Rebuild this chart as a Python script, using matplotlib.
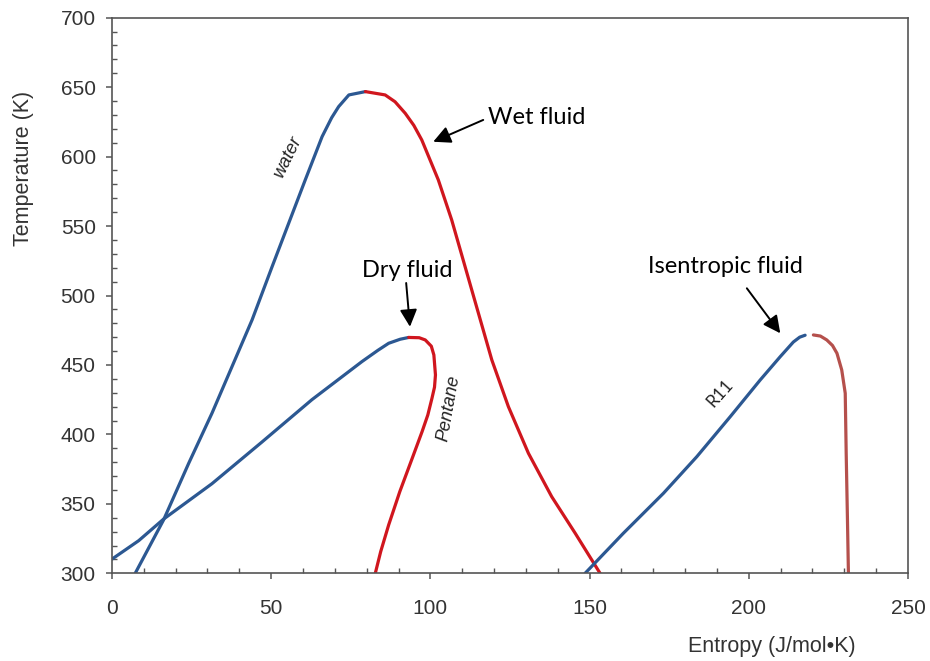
import matplotlib
matplotlib.use('Agg')
import matplotlib.pyplot as plt
from matplotlib.ticker import MultipleLocator

# water saturation dome (liquid side blue, vapour side red)
water_liq_s = [7.3, 16.2, 24.1, 31.4, 37.7, 44.0, 50.3, 55.5, 60.7, 66.0, 69.0, 71.2,
               74.4, 79.6]
water_liq_T = [300, 338.4, 379.2, 415.2, 448.8, 482.4, 520.8, 552.0, 583.2, 614.4,
               628.0, 636.0, 644.4, 646.8]
water_vap_s = [79.6, 85.8, 88.9, 92.1, 94.8, 97.3, 102.5, 106.7, 110.9, 115.1, 119.3,
               124.5, 130.8, 138.1, 145.5, 153.3]
water_vap_T = [646.8, 644.4, 639.5, 631.2, 622.5, 612, 583.2, 554.4, 520.8, 487.2, 453.6,
               420, 386.4, 355.2, 328.8, 300]

# pentane
pent_liq_s = [0.0, 8.4, 16.2, 31.4, 47.1, 62.8, 78.5, 83.5, 86.9, 90.5, 93.2]
pent_liq_T = [310.2, 323.5, 339.0, 364.5, 394.5, 425.0, 452.4, 460.5, 465.6, 468.5, 469.8]
pent_vap_s = [93.2, 96.5, 98.4, 100.3, 101.1, 101.6, 101.3, 100.5, 99.2, 97.4,
              94.3, 90.4, 86.9, 84.4, 82.7]
pent_vap_T = [469.8, 469.6, 468.0, 463.5, 457.2, 442.8, 434, 426, 414, 402,
              382.8, 358.8, 334.8, 315.6, 300]

# R11
r11_liq_s = [148.6, 160.6, 173.2, 183.7, 194.2, 203.6, 209.9, 214.0, 216.0, 217.7]
r11_liq_T = [300, 328.8, 357.6, 384, 412.8, 439.2, 456, 466.5, 470.0, 471.4]
r11_vap_s = [220.3, 222.5, 224.5, 226.3, 227.7, 229.2, 230.3, 230.6, 231.0, 231.3]
r11_vap_T = [471.6, 470.8, 468, 464, 458.4, 446.4, 429.6, 386.4, 338.4, 300]

blue = '#2c5892'
red = '#d0161e'
red_r11 = '#b5504c'

plt.rcParams['font.family'] = ['Liberation Sans', 'DejaVu Sans']

fig = plt.figure(figsize=(9.3, 6.61), dpi=100)
ax = fig.add_axes([0.1204, 0.1327, 0.8559, 0.8405])

lw = 2.3
line_kw = dict(lw=lw, solid_capstyle='round', solid_joinstyle='round')
ax.plot(water_liq_s, water_liq_T, color=blue, **line_kw)
ax.plot(water_vap_s, water_vap_T, color=red, **line_kw)
ax.plot(pent_liq_s, pent_liq_T, color=blue, **line_kw)
ax.plot(pent_vap_s, pent_vap_T, color=red, **line_kw)
ax.plot(r11_liq_s, r11_liq_T, color=blue, **line_kw)
ax.plot(r11_vap_s, r11_vap_T, color=red_r11, **line_kw)

ax.set_xlim(0, 250)
ax.set_ylim(300, 700)
ax.xaxis.set_major_locator(MultipleLocator(50))
ax.xaxis.set_minor_locator(MultipleLocator(10))
ax.yaxis.set_major_locator(MultipleLocator(50))
ax.yaxis.set_minor_locator(MultipleLocator(10))
ax.tick_params(which='major', direction='out', length=4.2, width=1.1,
               color='#555555', labelsize=15, labelcolor='#333333', pad=7.5)
ax.tick_params(which='minor', direction='in', length=3.6, width=1.0, color='#555555')
ax.tick_params(axis='x', which='major', pad=14)
for side in ['left', 'bottom', 'top', 'right']:
    ax.spines[side].set_color('#555555')
    ax.spines[side].set_linewidth(1.2)

ax.set_xlabel('Entropy (J/mol•K)', fontsize=15.5, color='#333333')
ax.set_ylabel('Temperature (K)', fontsize=15.5, color='#333333')
ax.xaxis.set_label_coords(0.829, -0.113)
ax.yaxis.set_label_coords(-0.098, 0.7286)

# curve names
ax.text(55.2, 599.5, 'water', rotation=64, style='italic', fontsize=13,
        color='#222222', ha='center', va='center')
ax.text(105.7, 418.8, 'Pentane', rotation=80, style='italic', fontsize=13,
        color='#222222', ha='center', va='center')
ax.text(191, 429.6, 'R11', rotation=48, fontsize=12.5, family='Lato',
        color='#222222', ha='center', va='center')

# fluid type callouts
arrow = dict(arrowstyle='-|>', color='black', lw=1.4, mutation_scale=26,
             shrinkA=0, shrinkB=0)
ax.annotate('', xy=(100.9, 610.7), xytext=(116.6, 626.4), arrowprops=arrow)
ax.text(133.5, 628, 'Wet fluid', fontsize=17, family='Lato', ha='center', va='center')
ax.annotate('', xy=(93.6, 477.5), xytext=(92.4, 509), arrowprops=arrow)
ax.text(92.6, 518, 'Dry fluid', fontsize=17, family='Lato', ha='center', va='center')
ax.annotate('', xy=(209.9, 472.8), xytext=(199.4, 505.2), arrowprops=arrow)
ax.text(192.6, 521, 'Isentropic fluid', fontsize=17, family='Lato', ha='center',
        va='center')

fig.savefig('out.png', dpi=100)
